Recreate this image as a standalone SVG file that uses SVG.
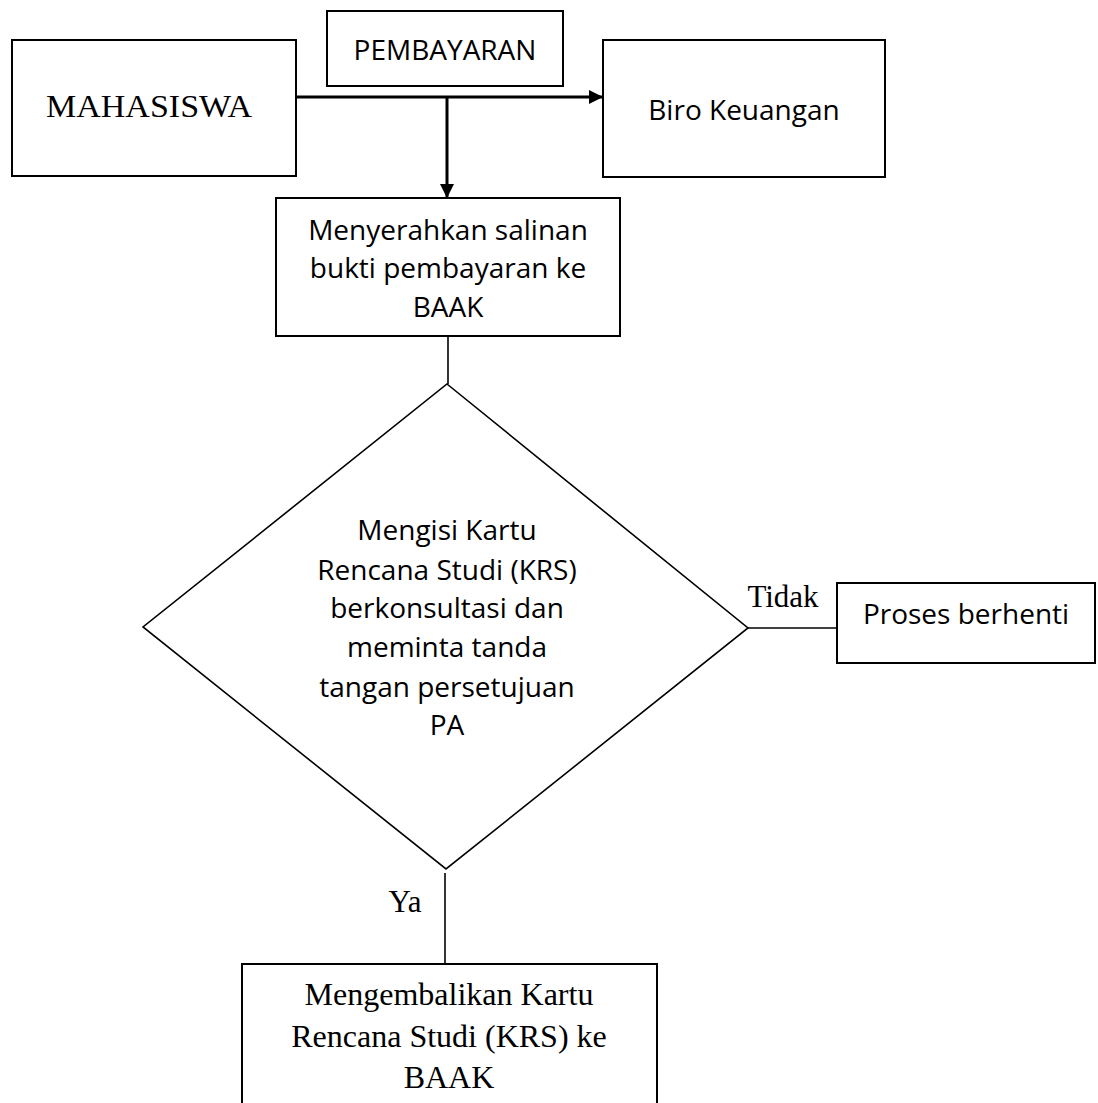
<svg xmlns="http://www.w3.org/2000/svg" width="1098" height="1103" viewBox="0 0 1098 1103">
<style>
.box{fill:#fff;stroke:#000;stroke-width:2}
.dia{fill:none;stroke:#000;stroke-width:1.6}
.ln{fill:none;stroke:#000;stroke-width:1.6}
.arr{fill:none;stroke:#000;stroke-width:3}
.serif{font-family:"Liberation Serif","Times New Roman",serif;font-size:31px;fill:#000;text-anchor:middle}
.big{font-size:32px}
.sans{font-family:"Open Sans","Noto Sans",sans-serif;font-size:28px;fill:#000;text-anchor:middle}
</style>
<defs>
<marker id="ah" markerWidth="14" markerHeight="14" refX="14" refY="7" orient="auto" markerUnits="userSpaceOnUse" viewBox="0 0 14 14">
<path d="M0,0 L14,7 L0,14 Z" fill="#000"/>
</marker>
</defs>
<rect width="1098" height="1103" fill="#fff"/>
<g id="connectors">
<line class="arr" x1="296" y1="97" x2="603" y2="97" marker-end="url(#ah)"/>
<line class="arr" x1="447" y1="97" x2="447" y2="198" marker-end="url(#ah)"/>
<line class="ln" x1="448" y1="336" x2="448" y2="384"/>
<line class="ln" x1="748" y1="628" x2="837" y2="628"/>
<line class="ln" x1="445" y1="873" x2="445" y2="964"/>
<text class="serif" x="783" y="607">Tidak</text>
<text class="serif" x="405" y="912">Ya</text>
</g>
<g id="mahasiswa">
<rect class="box" x="12" y="40" width="284" height="136"/>
<text class="serif" x="149" y="117" textLength="206" lengthAdjust="spacingAndGlyphs">MAHASISWA</text>
</g>
<g id="pembayaran">
<rect class="box" x="327" y="11" width="236" height="75"/>
<text class="sans" x="445" y="60">PEMBAYARAN</text>
</g>
<g id="biro">
<rect class="box" x="603" y="40" width="282" height="137"/>
<text class="sans" x="744" y="120">Biro Keuangan</text>
</g>
<g id="menyerahkan">
<rect class="box" x="276" y="198" width="344" height="138"/>
<text class="sans" x="448" y="240">Menyerahkan salinan</text>
<text class="sans" x="448" y="278">bukti pembayaran ke</text>
<text class="sans" x="448" y="317">BAAK</text>
</g>
<g id="mengisi">
<polygon class="dia" points="447,384 748,628 446,869 143,627"/>
<text class="sans" x="447" y="540">Mengisi Kartu</text>
<text class="sans" x="447" y="580">Rencana Studi (KRS)</text>
<text class="sans" x="447" y="618">berkonsultasi dan</text>
<text class="sans" x="447" y="657">meminta tanda</text>
<text class="sans" x="447" y="697">tangan persetujuan</text>
<text class="sans" x="447" y="735">PA</text>
</g>
<g id="proses">
<rect class="box" x="837" y="583" width="258" height="80"/>
<text class="sans" x="966" y="624">Proses berhenti</text>
</g>
<g id="mengembalikan">
<rect class="box" x="242" y="964" width="415" height="160"/>
<text class="serif big" x="449" y="1005">Mengembalikan Kartu</text>
<text class="serif big" x="449" y="1047">Rencana Studi (KRS) ke</text>
<text class="serif big" x="449" y="1088">BAAK</text>
</g>
</svg>
